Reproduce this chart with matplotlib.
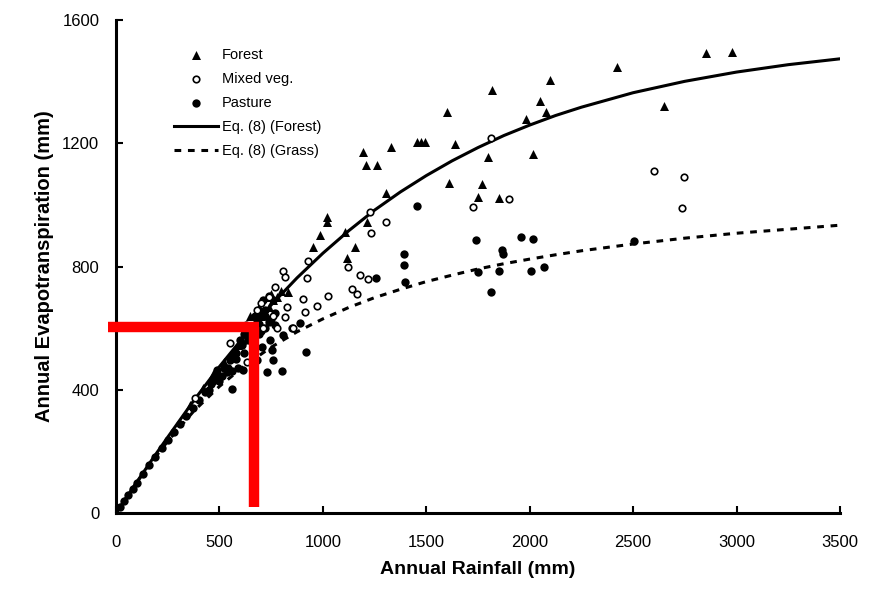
import matplotlib
matplotlib.use("Agg")
import matplotlib.pyplot as plt

plt.rcParams['font.family'] = ['Liberation Sans', 'DejaVu Sans']

# Eq. (8) curves
curve_rain = [0, 50, 100, 175, 250, 375, 500, 625, 750, 875, 1000, 1125, 1250, 1375, 1500,
              1625, 1750, 1875, 2000, 2125, 2250, 2500, 2750, 3000, 3250, 3500]
curve_forest = [0, 50, 100, 174, 246, 364, 475, 578, 675, 763, 843, 916, 983, 1042, 1095,
                1143, 1186, 1225, 1259, 1290, 1317, 1364, 1401, 1431, 1455, 1474]
curve_grass = [0, 50, 99, 168, 233, 330, 411, 480, 538, 588, 630, 667, 699, 726, 751,
               772, 792, 809, 824, 838, 851, 873, 892, 908, 921, 934]

# Forest catchments
forest_rain = [2852, 2978, 2422, 2098, 1818, 2050, 1600, 2649, 2079, 1982, 1455, 1474, 1494,
               1639, 1798, 2016, 1610, 1769, 1750, 1851, 1194, 1329, 1208, 1262, 1305,
               1020, 1020, 986, 952, 1213, 1107, 1155, 1117, 831, 760, 740, 720, 700, 780,
               800, 680, 660, 640, 610, 590, 560, 520, 470, 420, 360, 650, 690, 730, 750]
forest_et = [1492, 1496, 1447, 1405, 1372, 1337, 1301, 1320, 1301, 1278, 1204, 1204, 1204,
             1197, 1155, 1165, 1070, 1067, 1025, 1022, 1171, 1187, 1129, 1129, 1038,
             960, 944, 902, 863, 944, 912, 863, 827, 717, 690, 670, 650, 640, 700,
             720, 610, 600, 580, 560, 545, 520, 490, 450, 405, 350, 640, 670, 700, 710]

# Mixed vegetation catchments
mixed_rain = [1813, 2601, 2746, 2736, 1726, 1900, 1228, 1305, 1233, 928, 923, 1122, 1179,
              1218, 1141, 1165, 1025, 972, 904, 914, 807, 817, 769, 827, 817, 778, 711,
              856, 633, 551, 382, 740, 700, 760, 680]
mixed_et = [1217, 1109, 1090, 989, 993, 1019, 976, 944, 908, 817, 762, 798, 772,
            759, 727, 710, 704, 672, 694, 652, 785, 766, 733, 668, 636, 600, 600,
            600, 490, 551, 373, 700, 680, 640, 660]

# Pasture catchments
pasture_rain = [1392, 1392, 1397, 1740, 1958, 2016, 1866, 1871, 1750, 1851, 2006, 2069, 1813,
                2504, 1455, 1257, 918, 802, 730, 561, 744, 754, 759, 807, 851, 889, 706,
                681, 614, 537, 488, 20, 40, 60, 80, 100, 130, 160, 190, 220, 250, 280, 310,
                340, 370, 400, 430, 460, 490, 520, 550, 580, 610, 640, 660, 690, 720,
                450, 500, 540, 580, 620, 660, 700, 740, 770,
                620, 650, 680, 700, 720, 640, 600, 750, 770, 720, 690, 670, 630, 710, 740,
                760, 560, 590, 510, 470]
pasture_et = [840, 805, 749, 886, 895, 889, 853, 840, 782, 785, 785, 798, 717,
              882, 996, 762, 522, 461, 457, 402, 561, 529, 496, 577, 600, 616, 538,
              496, 464, 457, 464, 20, 40, 58, 78, 98, 125, 155, 182, 210, 236, 262, 290,
              315, 342, 368, 392, 420, 448, 470, 495, 520, 545, 570, 590, 615, 640,
              400, 430, 470, 500, 520, 560, 590, 620, 610,
              580, 600, 620, 650, 660, 560, 560, 630, 650, 600, 580, 640, 610, 690, 705,
              690, 460, 470, 445, 430]

fig = plt.figure(figsize=(8.69, 5.95), dpi=100)
ax = fig.add_axes([0.1335, 0.1378, 0.8331, 0.8286])

ax.scatter(forest_rain, forest_et, marker='^', s=42, color='black', linewidths=0,
           label='Forest', zorder=3)
ax.scatter(mixed_rain, mixed_et, marker='o', s=22, facecolors='white', edgecolors='black',
           linewidths=1.2, label='Mixed veg.', zorder=4)
ax.scatter(pasture_rain, pasture_et, marker='o', s=36, color='black', linewidths=0,
           label='Pasture', zorder=3)
ax.plot(curve_rain, curve_forest, color='black', lw=2.2, label='Eq. (8) (Forest)', zorder=2)
ax.plot(curve_rain, curve_grass, color='black', lw=2.2, ls=(0, (2.2, 2.2)),
        label='Eq. (8) (Grass)', zorder=2)

# red highlight lines
ax.plot([-40, 691], [603, 603], color='#ff0000', lw=7.5, solid_capstyle='butt',
        clip_on=False, zorder=5)
ax.plot([667, 667], [603, 19], color='#ff0000', lw=7.5, solid_capstyle='butt',
        clip_on=False, zorder=5)

ax.set_xlim(0, 3500)
ax.set_ylim(0, 1600)
ax.set_xticks(range(0, 3501, 500))
ax.set_yticks(range(0, 1601, 400))
for side in ['top', 'right']:
    ax.spines[side].set_visible(False)
for side in ['left', 'bottom']:
    ax.spines[side].set_linewidth(2.2)
ax.tick_params(axis='both', direction='in', length=5, width=1.5, labelsize=12)
ax.tick_params(axis='x', pad=16)
ax.tick_params(axis='y', pad=12)

ax.set_xlabel('Annual Rainfall (mm)', fontsize=14, fontweight='bold', labelpad=8)
ax.set_ylabel('Annual Evapotranspiration (mm)', fontsize=14.5, fontweight='bold', labelpad=6)

ax.legend(loc='upper left', bbox_to_anchor=(0.07, 0.958), frameon=False, fontsize=10.5,
          borderpad=0, labelspacing=0.68, handlelength=3.0, handletextpad=0.3,
          scatterpoints=1)

fig.savefig('out.png', dpi=100)
